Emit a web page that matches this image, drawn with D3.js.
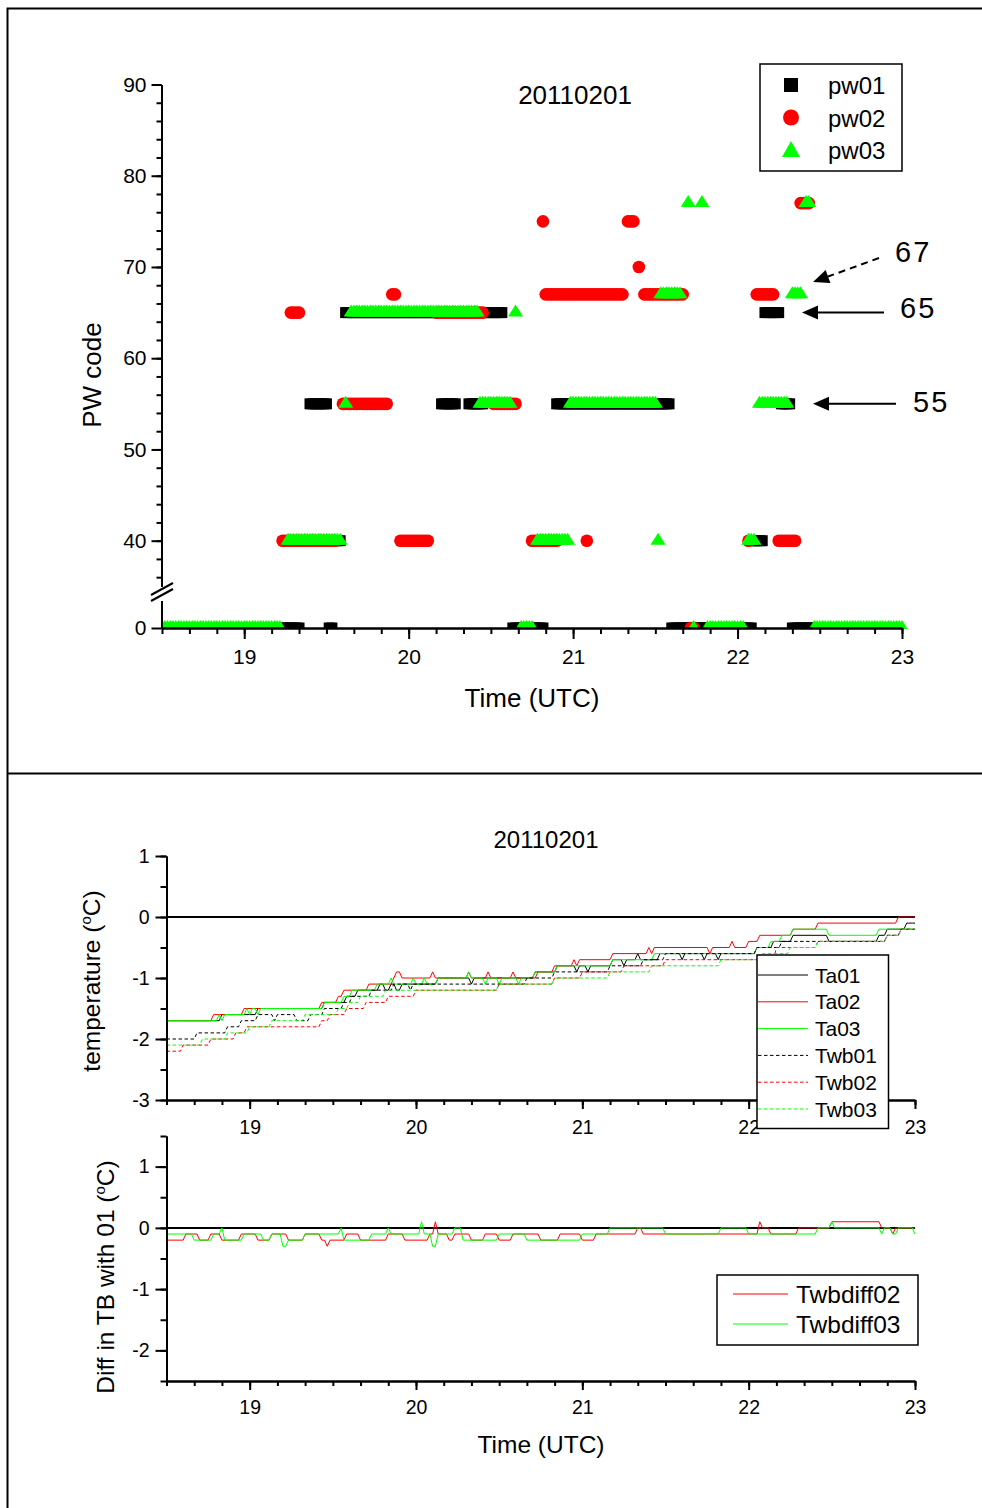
<!DOCTYPE html>
<html><head><meta charset="utf-8">
<script src="https://cdn.jsdelivr.net/npm/d3@7"></script>
<style>
body{margin:0;background:#fff}
svg{display:block}
text{font-family:"Liberation Sans",Arial,Helvetica,sans-serif;fill:#000}
</style>
</head><body>
<svg id="chart" width="982" height="1508"></svg>
<script>
// ---------- Present-weather codes, 1-minute reports, run-length coded: [first, last, code] ----------
const dateLabel = "20110201";
const pw01Runs = [
  ["19:14","19:20",0],["19:21","19:23",40],["19:24","19:30",55],["19:31","19:32",0],["19:33","19:35",40],
  ["19:37","20:34",65],["20:12","20:17",55],["20:22","20:27",55],["20:38","20:49",0],["20:54","21:35",55],
  ["21:36","22:05",0],["22:05","22:09",40],["22:10","22:15",65],["22:16","22:19",55],["22:20","22:28",0]
];
const pw02Runs = [
  ["19:14","19:33",40],["19:17","19:20",65],["19:36","19:52",55],["19:54","19:55",67],["19:57","20:07",40],
  ["20:10","20:27",65],["20:31","20:39",55],["20:45","20:54",40],["20:49","20:49",75],["20:50","21:18",67],
  ["21:05","21:05",40],["21:20","21:22",75],["21:24","21:24",70],["21:26","21:40",67],["21:43","21:44",0],
  ["22:04","22:04",40],["22:07","22:13",67],["22:15","22:21",40],["22:23","22:26",77]
];
const pw03Runs = [
  ["18:30","19:13",0],["19:16","19:35",40],["19:37","19:37",55],["19:39","20:25",65],["20:26","20:37",55],
  ["20:39","20:39",65],["20:41","20:45",0],["20:47","20:58",40],["20:59","21:30",55],["21:31","21:31",40],
  ["21:32","21:39",67],["21:42","21:42",77],["21:44","21:44",0],["21:47","21:47",77],["21:49","22:02",0],
  ["22:04","22:06",40],["22:08","22:18",55],["22:20","22:23",67],["22:25","22:26",77],["22:28","23:00",0]
];
const pwNames = ["pw01","pw02","pw03"];
const pwColors = ["#000000","#ff0000","#00ff00"];
const pwYTicks = [40,50,60,70,80,90];
const hourTicks = [19,20,21,22,23];
const noteCodes = [67,65,55];

// ---------- Temperatures (°C), value changes: [time, value] ----------
const ta01 = [["18:30",-1.7],["18:50",-1.6],["19:03",-1.5],["19:27",-1.4],["19:35",-1.3],["19:39",-1.2],["19:47",-1.1],
  ["19:49",-1.2],["19:51",-1.1],["19:53",-1.2],["19:55",-1.1],["20:08",-1.0],["20:20",-1.1],["20:21",-1.0],["20:43",-0.9],
  ["20:51",-0.8],["20:58",-0.9],["20:59",-0.8],["21:02",-0.9],["21:03",-0.8],["21:11",-0.7],["21:15",-0.8],["21:16",-0.7],
  ["21:20",-0.6],["21:21",-0.7],["21:28",-0.6],["21:36",-0.7],["21:37",-0.6],["21:44",-0.7],["21:45",-0.6],["21:49",-0.7],
  ["21:50",-0.6],["22:03",-0.5],["22:09",-0.4],["22:16",-0.3],["22:29",-0.4],["22:47",-0.3],["22:50",-0.2],["22:57",-0.1],["23:00",-0.1]];
const ta02 = [["18:30",-1.7],["18:47",-1.6],["18:58",-1.5],["19:26",-1.4],["19:32",-1.3],["19:34",-1.2],["19:43",-1.1],
  ["19:52",-1.0],["19:53",-0.9],["19:55",-1.0],["20:06",-0.9],["20:07",-1.0],["20:19",-0.9],["20:20",-1.0],["20:26",-0.9],
  ["20:27",-1.0],["20:35",-0.9],["20:36",-1.0],["20:44",-0.9],["20:50",-0.8],["20:57",-0.7],["20:58",-0.8],["20:59",-0.7],
  ["21:11",-0.6],["21:24",-0.5],["21:25",-0.6],["21:26",-0.5],["21:46",-0.6],["21:47",-0.5],["21:54",-0.4],["21:55",-0.5],
  ["22:00",-0.4],["22:04",-0.3],["22:16",-0.2],["22:25",-0.1],["22:54",0.0],["23:00",0.0]];
const ta03 = [["18:30",-1.7],["18:49",-1.6],["18:50",-1.7],["18:51",-1.6],["18:59",-1.5],["19:00",-1.6],["19:01",-1.5],
  ["19:03",-1.6],["19:04",-1.5],["19:27",-1.4],["19:34",-1.3],["19:37",-1.2],["19:46",-1.1],["19:51",-1.0],["19:52",-1.1],
  ["19:59",-1.0],["20:00",-1.1],["20:03",-1.0],["20:04",-1.1],["20:08",-1.0],["20:19",-0.9],["20:20",-1.0],["20:25",-1.1],
  ["20:26",-1.0],["20:30",-1.1],["20:31",-1.0],["20:37",-1.1],["20:38",-1.0],["20:43",-0.9],["20:51",-0.8],["21:11",-0.7],
  ["21:26",-0.6],["22:03",-0.5],["22:08",-0.4],["22:12",-0.3],["22:16",-0.2],["22:29",-0.3],["22:47",-0.2],["23:00",-0.2]];
const twb01 = [["18:30",-2.0],["18:41",-1.9],["18:52",-1.8],["18:57",-1.7],["19:03",-1.6],["19:09",-1.7],["19:10",-1.6],
  ["19:17",-1.7],["19:22",-1.6],["19:27",-1.5],["19:34",-1.4],["19:37",-1.3],["19:44",-1.2],["19:52",-1.1],["19:58",-1.2],
  ["19:59",-1.1],["20:40",-1.0],["20:50",-0.9],["21:10",-0.8],["21:22",-0.7],["21:30",-0.6],["22:03",-0.5],["22:12",-0.4],
  ["22:50",-0.3],["22:55",-0.2],["23:00",-0.2]];
const twb02 = [["18:30",-2.2],["18:36",-2.1],["18:46",-2.0],["18:55",-1.9],["18:59",-1.8],["19:26",-1.7],["19:29",-1.6],
  ["19:35",-1.5],["19:42",-1.4],["19:50",-1.3],["20:00",-1.2],["20:30",-1.1],["20:50",-1.0],["21:00",-0.9],["21:15",-0.8],
  ["21:30",-0.7],["22:10",-0.5],["22:25",-0.4],["22:50",-0.3],["22:55",-0.2],["23:00",-0.2]];
const twb03 = [["18:30",-2.1],["18:43",-2.0],["18:52",-1.9],["19:00",-1.8],["19:08",-1.7],["19:20",-1.6],["19:32",-1.5],
  ["19:36",-1.4],["19:40",-1.3],["19:49",-1.2],["20:30",-1.1],["20:50",-1.0],["21:10",-0.9],["21:25",-0.8],["21:50",-0.7],
  ["22:05",-0.6],["22:15",-0.5],["22:25",-0.4],["22:50",-0.3],["22:55",-0.2],["23:00",-0.2]];
const tempNames = ["Ta01","Ta02","Ta03","Twb01","Twb02","Twb03"];

// ---------- Wet-bulb differences against station 01 (°C) ----------
const twbDiff02 = [["18:30",-0.2],["18:37",-0.1],["18:42",-0.2],["18:46",-0.1],["18:50",-0.2],["18:57",-0.1],["19:03",-0.2],
  ["19:08",-0.1],["19:14",-0.2],["19:20",-0.1],["19:26",-0.2],["19:28",-0.3],["19:29",-0.2],["19:35",-0.1],["19:40",-0.2],
  ["19:50",-0.1],["19:56",-0.2],["20:05",-0.1],["20:07",0.1],["20:08",-0.1],["20:12",-0.2],["20:14",-0.1],["20:20",-0.2],
  ["20:25",-0.1],["20:30",-0.2],["20:35",-0.1],["20:45",-0.2],["20:52",-0.1],["21:00",-0.2],["21:05",-0.1],["21:20",0.0],
  ["21:22",-0.1],["21:40",-0.1],["22:04",0.1],["22:05",0.0],["22:08",-0.1],["22:18",0.0],["22:30",0.1],["22:48",0.0],
  ["22:52",-0.1],["22:53",0.0],["23:00",0.0]];
const twbDiff03 = [["18:30",-0.1],["18:40",-0.2],["18:47",-0.1],["18:50",0.0],["18:51",-0.2],["18:58",-0.1],["19:05",-0.2],
  ["19:08",-0.1],["19:12",-0.3],["19:14",-0.2],["19:20",-0.1],["19:33",0.0],["19:34",-0.2],["19:44",-0.1],["19:50",0.0],
  ["19:51",-0.1],["20:02",0.1],["20:03",-0.1],["20:06",-0.3],["20:08",-0.1],["20:14",0.0],["20:17",-0.2],["20:30",-0.1],
  ["20:40",-0.2],["21:00",-0.1],["21:10",0.0],["21:30",-0.1],["21:50",0.0],["22:00",-0.1],["22:25",0.0],["22:30",0.1],
  ["22:31",0.0],["22:48",-0.1],["22:49",0.0],["22:52",-0.1],["22:54",0.0],["23:00",-0.1]];
const diffNames = ["Twbdiff02","Twbdiff03"];

// ---------- helpers ----------
const toMin = s => { const [h,m] = s.split(":").map(Number); return h*60 + m; };
// one marker per reported minute of each run
function runPoints(runs){
  const pts = [];
  runs.forEach(([a,b,c]) => { for(let m = toMin(a); m <= toMin(b); m++) pts.push({t:m/60, code:c}); });
  return pts;
}
// readings hold their value until the next change (1-minute reporting step)
function stepPoints(changes){
  const pts = [];
  changes.forEach(([s,v],i) => {
    const m = toMin(s);
    pts.push([m/60, v]);
    if(i < changes.length-1){
      const n = toMin(changes[i+1][0]);
      if(n - 1 > m) pts.push([(n-1)/60, v]);
    }
  });
  return pts;
}

const svg = d3.select("#chart");
const FONT = '"Liberation Sans",Arial,sans-serif';
const intFmt = d => String(d3.format("d")(d)).replace("\u2212","-");

// outer frame and divider
svg.append("path").attr("d","M7.5,1508 V8.5 H982").attr("fill","none").attr("stroke","#000").attr("stroke-width",2);
svg.append("line").attr("x1",7.5).attr("x2",982).attr("y1",773.5).attr("y2",773.5).attr("stroke","#000").attr("stroke-width",2);

function styleAxis(g, fs){
  g.selectAll("path,line").attr("stroke","#000").attr("stroke-width",2);
  g.selectAll("text").attr("font-size",fs).attr("font-family",FONT).attr("fill","#000");
}

// =================== Panel 1: PW codes ===================
const xPW = d3.scaleLinear().domain([18.5,23]).range([162,902]);
const yPWhi = d3.scaleLinear().domain([35,90]).range([586.3,84.5]);
const yPWlo = d3.scaleLinear().domain([0,3]).range([628,600.6]);
const yCode = c => c < 20 ? yPWlo(c) : yPWhi(c);

svg.append("defs").append("clipPath").attr("id","pwclip")
  .append("rect").attr("x",162).attr("y",60).attr("width",760).attr("height",569);

const marks = svg.append("g").attr("clip-path","url(#pwclip)");
const triPath = "M0,-8L7.5,4L-7.5,4Z";
[pw01Runs,pw02Runs,pw03Runs].forEach((runs,k) => {
  const g = marks.append("g").attr("fill",pwColors[k]);
  const pts = runPoints(runs);
  if(k===0){
    g.selectAll("rect").data(pts).join("rect")
      .attr("x",d=>xPW(d.t)-5.5).attr("y",d=>yCode(d.code)-5.5).attr("width",11).attr("height",11);
  } else if(k===1){
    g.selectAll("circle").data(pts).join("circle")
      .attr("cx",d=>xPW(d.t)).attr("cy",d=>yCode(d.code)).attr("r",6.3);
  } else {
    g.selectAll("path").data(pts).join("path")
      .attr("transform",d=>`translate(${xPW(d.t)},${yCode(d.code)})`).attr("d",triPath);
  }
});

// y axis, upper segment
const gy1 = svg.append("g").attr("transform","translate(161.5,0)");
gy1.call(d3.axisLeft(yPWhi).tickValues(d3.range(36,91,2)).tickSize(5).tickSizeOuter(0).tickFormat(""));
gy1.call(g=>g.append("g").call(d3.axisLeft(yPWhi).tickValues(pwYTicks).tickSize(10).tickSizeOuter(0).tickPadding(5).tickFormat(intFmt)));
styleAxis(gy1, 21);
// y axis, lower segment
const gy0 = svg.append("g").attr("transform","translate(161.5,0)");
gy0.call(d3.axisLeft(yPWlo).tickValues([0]).tickSize(10).tickSizeOuter(0).tickPadding(5).tickFormat(intFmt));
styleAxis(gy0, 21);
// axis break
[[601,589],[595,583]].forEach(([a,b]) => svg.append("line").attr("x1",151).attr("y1",a).attr("x2",173).attr("y2",b)
  .attr("stroke","#000").attr("stroke-width",2));
// x axis
const minorHours = d3.range(0,271,10).map(m => 18.5 + m/60);
const gx1 = svg.append("g").attr("transform","translate(0,628)");
gx1.call(d3.axisBottom(xPW).tickValues(minorHours).tickSize(6).tickSizeOuter(0).tickFormat(""));
gx1.call(g=>g.append("g").call(d3.axisBottom(xPW).tickValues(hourTicks).tickSize(11).tickSizeOuter(0).tickPadding(10).tickFormat(intFmt)));
styleAxis(gx1, 21);

svg.append("text").attr("x",575).attr("y",104).attr("text-anchor","middle").attr("font-size",26).text(dateLabel);
svg.append("text").attr("x",532).attr("y",707).attr("text-anchor","middle").attr("font-size",26).text("Time (UTC)");
svg.append("text").attr("transform","translate(101,375) rotate(-90)").attr("text-anchor","middle").attr("font-size",26).text("PW code");

// legend
const lg1 = svg.append("g");
lg1.append("rect").attr("x",760).attr("y",64).attr("width",142).attr("height",107).attr("fill","#fff").attr("stroke","#000").attr("stroke-width",1.5);
lg1.append("rect").attr("x",784).attr("y",78).attr("width",14).attr("height",14).attr("fill",pwColors[0]);
lg1.append("circle").attr("cx",791).attr("cy",117.5).attr("r",8).attr("fill",pwColors[1]);
lg1.append("path").attr("transform","translate(791,151)").attr("d","M0,-10L9,6L-9,6Z").attr("fill",pwColors[2]);
pwNames.forEach((n,i)=> lg1.append("text").attr("x",828).attr("y",94+i*32.5).attr("font-size",24).text(n));

// annotation arrows
function arrow(x1,y1,x2,y2,dashed){
  const ang = Math.atan2(y2-y1,x2-x1), L = 16, W = 7;
  const bx = x2 - L*Math.cos(ang), by = y2 - L*Math.sin(ang);
  svg.append("line").attr("x1",x1).attr("y1",y1).attr("x2",bx).attr("y2",by)
    .attr("stroke","#000").attr("stroke-width",2).attr("stroke-dasharray",dashed?"7,5":null);
  const px = -Math.sin(ang)*W, py = Math.cos(ang)*W;
  svg.append("path").attr("d",`M${x2},${y2}L${bx+px},${by+py}L${bx-px},${by-py}Z`).attr("fill","#000");
}
arrow(879,258,813,282,true);
arrow(884,yCode(65),802,yCode(65),false);
arrow(896,yCode(55),813,yCode(55),false);
const noteAt = [[895,262],[900,318],[913,412]];
noteCodes.forEach((c,i)=> svg.append("text").attr("x",noteAt[i][0]).attr("y",noteAt[i][1])
  .attr("font-family",'"Liberation Serif","DejaVu Serif",serif').attr("font-size",29).attr("letter-spacing",2).text(c));

// =================== Panel 2: temperatures ===================
const xT = d3.scaleLinear().domain([18.5,23]).range([166.5,915]);
const yT = d3.scaleLinear().domain([-3,1]).range([1100,856]);
const tempSeries = [ta01,ta02,ta03,twb01,twb02,twb03];
const tempColors = ["#000","#ff0000","#00ff00","#000","#ff0000","#00ff00"];
const tempDash = [null,null,null,"3.5,2.5","3.5,2.5","3.5,2.5"];

svg.append("line").attr("x1",166.5).attr("x2",915).attr("y1",yT(0)).attr("y2",yT(0)).attr("stroke","#000").attr("stroke-width",2);
const lineT = d3.line().x(d=>xT(d[0])).y(d=>yT(d[1]));
tempSeries.forEach((s,i)=> svg.append("path").attr("d",lineT(stepPoints(s))).attr("fill","none")
  .attr("stroke",tempColors[i]).attr("stroke-width",1).attr("stroke-dasharray",tempDash[i]));

const gy2 = svg.append("g").attr("transform","translate(166.5,0)");
gy2.call(d3.axisLeft(yT).tickValues(d3.range(-3,1.01,0.5)).tickSize(6).tickSizeOuter(0).tickFormat(""));
gy2.call(g=>g.append("g").call(d3.axisLeft(yT).tickValues([-3,-2,-1,0,1]).tickSize(11).tickSizeOuter(0).tickPadding(6).tickFormat(intFmt)));
styleAxis(gy2, 19.5);
const gx2 = svg.append("g").attr("transform","translate(0,1100)");
gx2.call(d3.axisBottom(xT).tickValues(minorHours).tickSize(5).tickSizeOuter(0).tickFormat(""));
gx2.call(g=>g.append("g").call(d3.axisBottom(xT).tickValues(hourTicks).tickSize(9).tickSizeOuter(0).tickPadding(11).tickFormat(intFmt)));
styleAxis(gx2, 19.5);

svg.append("text").attr("x",546).attr("y",848).attr("text-anchor","middle").attr("font-size",24).text(dateLabel);
const tl = svg.append("text").attr("transform","translate(100,981) rotate(-90)").attr("text-anchor","middle").attr("font-size",24.5);
tl.append("tspan").text("temperature (");
tl.append("tspan").attr("font-size",15).attr("dy",-9).text("o");
tl.append("tspan").attr("dy",9).text("C)");

const lg2 = svg.append("g");
lg2.append("rect").attr("x",757).attr("y",955).attr("width",131.5).attr("height",173.5).attr("fill","#fff").attr("stroke","#000").attr("stroke-width",1.5);
tempNames.forEach((n,i)=>{
  const y = 975 + i*26.8;
  lg2.append("line").attr("x1",758).attr("x2",808).attr("y1",y).attr("y2",y).attr("stroke",tempColors[i]).attr("stroke-width",1).attr("stroke-dasharray",tempDash[i]);
  lg2.append("text").attr("x",815).attr("y",y+7.5).attr("font-size",21).text(n);
});

// =================== Panel 3: wet-bulb differences ===================
const yD = d3.scaleLinear().domain([-2.5,1.5]).range([1381,1136]);
const diffColors = ["#ff0000","#00ff00"];
svg.append("line").attr("x1",166.5).attr("x2",915).attr("y1",yD(0)).attr("y2",yD(0)).attr("stroke","#000").attr("stroke-width",2);
const lineD = d3.line().x(d=>xT(d[0])).y(d=>yD(d[1]));
[twbDiff02,twbDiff03].forEach((s,i)=> svg.append("path").attr("d",lineD(stepPoints(s))).attr("fill","none")
  .attr("stroke",diffColors[i]).attr("stroke-width",1));

const gy3 = svg.append("g").attr("transform","translate(166.5,0)");
gy3.call(d3.axisLeft(yD).tickValues(d3.range(-2.5,1.51,0.5)).tickSize(6).tickSizeOuter(0).tickFormat(""));
gy3.call(g=>g.append("g").call(d3.axisLeft(yD).tickValues([-2,-1,0,1]).tickSize(11).tickSizeOuter(0).tickPadding(6).tickFormat(intFmt)));
styleAxis(gy3, 19.5);
const gx3 = svg.append("g").attr("transform","translate(0,1381)");
gx3.call(d3.axisBottom(xT).tickValues(minorHours).tickSize(5).tickSizeOuter(0).tickFormat(""));
gx3.call(g=>g.append("g").call(d3.axisBottom(xT).tickValues(hourTicks).tickSize(9).tickSizeOuter(0).tickPadding(10).tickFormat(intFmt)));
styleAxis(gx3, 19.5);

svg.append("text").attr("x",541).attr("y",1453).attr("text-anchor","middle").attr("font-size",24.5).text("Time (UTC)");
const dl = svg.append("text").attr("transform","translate(114,1277) rotate(-90)").attr("text-anchor","middle").attr("font-size",24.5);
dl.append("tspan").text("Diff in TB with 01 (");
dl.append("tspan").attr("font-size",15).attr("dy",-9).text("o");
dl.append("tspan").attr("dy",9).text("C)");

const lg3 = svg.append("g");
lg3.append("rect").attr("x",717).attr("y",1275).attr("width",201).attr("height",70).attr("fill","#fff").attr("stroke","#000").attr("stroke-width",1.5);
diffNames.forEach((n,i)=>{
  const y = 1294 + i*30;
  lg3.append("line").attr("x1",733).attr("x2",788).attr("y1",y).attr("y2",y).attr("stroke",diffColors[i]).attr("stroke-width",1);
  lg3.append("text").attr("x",796).attr("y",y+9).attr("font-size",24.5).text(n);
});
</script>
</body></html>
